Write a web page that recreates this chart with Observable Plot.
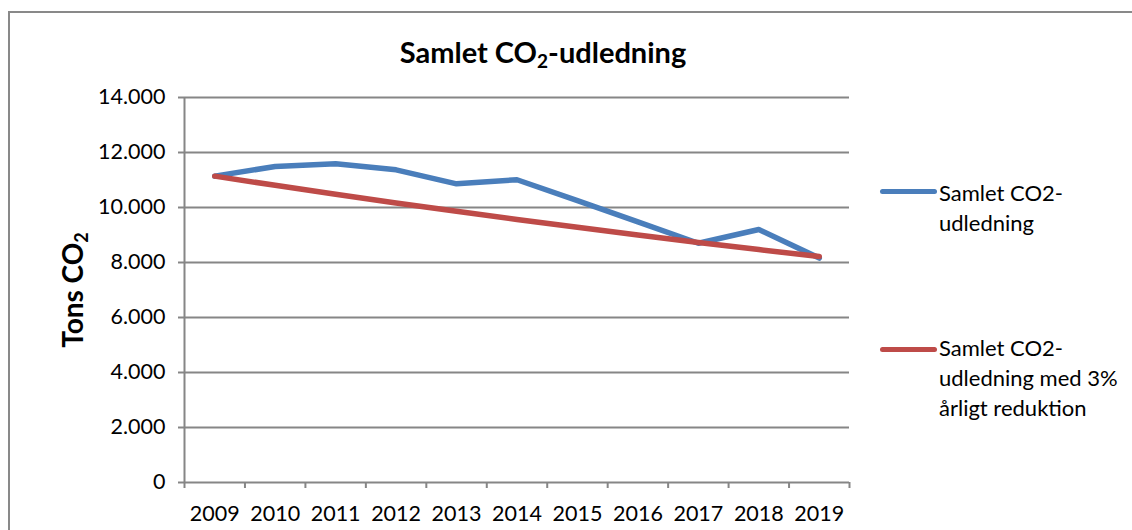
<!DOCTYPE html>
<html>
<head>
<meta charset="utf-8">
<script src="https://cdn.jsdelivr.net/npm/d3@7"></script>
<script src="https://cdn.jsdelivr.net/npm/@observablehq/plot@0.6"></script>
<style>
  body { margin: 0; background: #fff; font-family: Lato, "Open Sans", sans-serif; color: #000; }
  #wrap { position: relative; width: 1132px; height: 530px; overflow: hidden; background: #fff; }
  #frame { position: absolute; left: 8px; top: 11px; width: 1200px; height: 600px;
           border-left: 2px solid #898989; border-top: 2px solid #898989; }
  #chart { position: absolute; left: 0; top: 0; }
  #title { position: absolute; left: 0; width: 1086px; top: 35px; text-align: center;
           font-weight: bold; font-size: 29px; line-height: 34px; }
  #title sub { font-size: 19px; vertical-align: -5px; line-height: 0; }
  #ytitle { position: absolute; left: 72px; top: 290px; transform: translate(-50%, -50%) rotate(-90deg);
            font-weight: bold; font-size: 28px; white-space: nowrap; }
  #ytitle sub { font-size: 18px; vertical-align: -5px; line-height: 0; }
  .leg { position: absolute; left: 880px; font-size: 22px; line-height: 30px; }
  .leg .sw { position: absolute; left: 0; width: 57px; height: 5px; border-radius: 3px; }
  .leg .tx { position: absolute; left: 59px; top: 0; white-space: nowrap; }
</style>
</head>
<body>
<div id="wrap">
  <div id="frame"></div>
  <div id="chart"></div>
  <div id="title">Samlet CO<sub>2</sub>-udledning</div>
  <div id="ytitle">Tons CO<sub>2</sub></div>
  <div class="leg" id="leg1" style="top:178px;">
    <div class="sw" style="top:11px;background:#4A7EBB;"></div>
    <div class="tx">Samlet CO2-<br>udledning</div>
  </div>
  <div class="leg" id="leg2" style="top:333px;">
    <div class="sw" style="top:14px;background:#BE4B48;"></div>
    <div class="tx">Samlet CO2-<br>udledning med 3%<br>årligt reduktion</div>
  </div>
</div>
<script>
const years = [2009, 2010, 2011, 2012, 2013, 2014, 2015, 2016, 2017, 2018, 2019];
const samlet = [11140, 11490, 11590, 11370, 10860, 11010, 10250, 9480, 8700, 9200, 8160];
const reduktion = [11140, 10806, 10482, 10167, 9862, 9566, 9279, 9001, 8731, 8469, 8215];
const yTicks = [0, 2000, 4000, 6000, 8000, 10000, 12000, 14000];

const rows = years.map((y, i) => ({ year: y, samlet: samlet[i], reduktion: reduktion[i] }));
const boundaries = years.map(y => y - 0.5).concat([years[years.length - 1] + 0.5]);
const fmt = d3.formatLocale({ thousands: ".", grouping: [3], decimal: "," }).format(",d");
const gray = "#868686";

const plot = Plot.plot({
  width: 880,
  height: 530,
  marginLeft: 184,
  marginRight: 31,
  marginTop: 97,
  marginBottom: 48,
  x: { domain: [boundaries[0], boundaries[boundaries.length - 1]] },
  y: { domain: [0, 14000] },
  style: { fontFamily: "Lato, 'Open Sans', sans-serif", fontSize: "21.5px", color: "#000", background: "transparent" },
  marks: [
    Plot.gridY(yTicks, { stroke: gray, strokeOpacity: 1, strokeWidth: 2 }),
    Plot.axisY(yTicks, { tickFormat: fmt, tickSize: 6, tickPadding: 13, stroke: gray, strokeWidth: 2, label: null }),
    Plot.axisX(years, { tickSize: 0, tickPadding: 23, tickFormat: d => String(d), label: null }),
    Plot.axisX(boundaries, { tickSize: 6, stroke: gray, strokeWidth: 2, text: null, label: null }),
    Plot.ruleX([boundaries[0]], { stroke: gray, strokeWidth: 2 }),
    Plot.line(rows, { x: "year", y: "samlet", stroke: "#4A7EBB", strokeWidth: 5.5 }),
    Plot.line(rows, { x: "year", y: "reduktion", stroke: "#BE4B48", strokeWidth: 5.5 })
  ]
});
document.getElementById("chart").appendChild(plot);
</script>
</body>
</html>
